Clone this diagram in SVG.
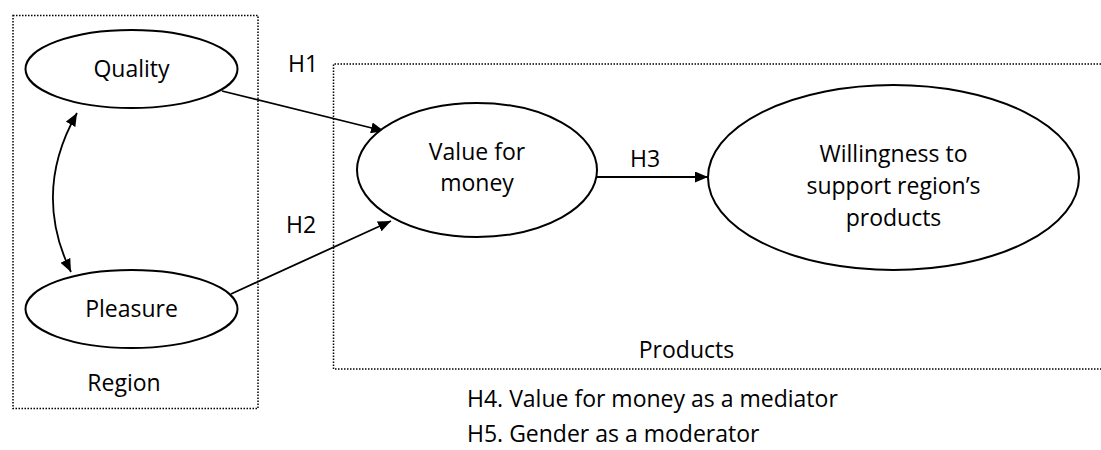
<svg xmlns="http://www.w3.org/2000/svg" width="1101" height="450" viewBox="0 0 1101 450">
<defs>
<style>
text{font-family:"Open Sans","Noto Sans",sans-serif;font-size:23px;fill:#000}
.c{text-anchor:middle}
.ell{fill:#fff;stroke:#000;stroke-width:2}
.dot{fill:none;stroke:#000;stroke-width:1.5;stroke-dasharray:1.5 1.5}
.arr{fill:none;stroke:#000;stroke-width:1.8;marker-end:url(#ah)}
</style>
<marker id="ah" markerUnits="userSpaceOnUse" markerWidth="13" markerHeight="11" refX="13" refY="5.5" orient="auto-start-reverse">
<path d="M0,0 L13,5.5 L0,11 z" fill="#000"/>
</marker>
</defs>
<g id="region-box">
<rect class="dot" x="13" y="15.5" width="245" height="393"/>
<text class="c" x="124" y="391">Region</text>
</g>
<g id="products-box">
<path class="dot" d="M1101,64 H333.5 V369 H1101"/>
<text class="c" x="686.5" y="358">Products</text>
</g>
<g id="connectors">
<line class="arr" x1="222" y1="91" x2="384" y2="131"/>
<line class="arr" x1="231" y1="294" x2="391" y2="221"/>
<line class="arr" x1="597" y1="177" x2="708" y2="177"/>
<path class="arr" d="M77,113 Q32,192 71,272" marker-start="url(#ah)"/>
</g>
<g id="quality">
<ellipse class="ell" cx="131.5" cy="69" rx="106" ry="39"/>
<text class="c" x="131.5" y="77">Quality</text>
</g>
<g id="pleasure">
<ellipse class="ell" cx="131.5" cy="309" rx="106" ry="39"/>
<text class="c" x="131.5" y="317">Pleasure</text>
</g>
<g id="value">
<ellipse class="ell" cx="477" cy="170" rx="120" ry="67"/>
<text class="c" x="477" y="160">Value for</text>
<text class="c" x="477" y="191">money</text>
</g>
<g id="willingness">
<ellipse class="ell" cx="893.5" cy="177.5" rx="185.5" ry="92.5"/>
<text class="c" x="893.5" y="162">Willingness to</text>
<text class="c" x="893.5" y="194">support region’s</text>
<text class="c" x="893.5" y="226">products</text>
</g>
<g id="labels">
<text x="288" y="72">H1</text>
<text x="286" y="233">H2</text>
<text x="630" y="167">H3</text>
<text x="467" y="407">H4. Value for money as a mediator</text>
<text x="467" y="442">H5. Gender as a moderator</text>
</g>
</svg>
